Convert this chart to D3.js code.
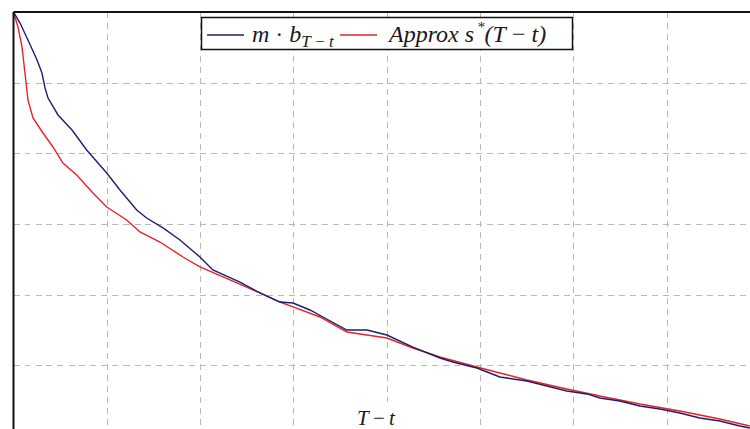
<!DOCTYPE html>
<html>
<head>
<meta charset="utf-8">
<script src="https://cdn.jsdelivr.net/npm/d3@7"></script>
<style>
  html, body { margin: 0; padding: 0; background: #fff; }
  svg { display: block; }
  .lbl { font-family: "Liberation Serif", "DejaVu Serif", serif; font-style: italic; fill: #1a1a1a; }
</style>
</head>
<body>
<svg id="chart" width="750" height="429"></svg>
<script>
// Time to maturity (T - t), in grid units
const blueT = [0, 0.070, 0.155, 0.252, 0.305, 0.338, 0.370, 0.477, 0.627, 0.784, 0.999, 1.141, 1.320, 1.427, 1.602, 1.784, 1.998, 2.137, 2.427, 2.641, 2.855, 2.995, 3.177, 3.316, 3.573, 3.788, 4.002, 4.280, 4.570, 4.709, 4.966, 5.212, 5.502, 5.716, 5.930, 6.145, 6.284, 6.498, 6.713, 6.927, 7.141, 7.355, 7.570, 7.784, 7.891];
// m · b_{T-t}
const blueV = [6, 5.844, 5.604, 5.321, 5.137, 4.925, 4.783, 4.543, 4.330, 4.047, 3.722, 3.481, 3.198, 3.085, 2.944, 2.774, 2.533, 2.349, 2.179, 2.024, 1.896, 1.882, 1.783, 1.684, 1.500, 1.500, 1.429, 1.259, 1.104, 1.047, 0.962, 0.835, 0.779, 0.708, 0.637, 0.595, 0.538, 0.495, 0.425, 0.382, 0.325, 0.255, 0.212, 0.142, 0.113];

const redT = [0, 0.048, 0.091, 0.123, 0.155, 0.209, 0.316, 0.423, 0.530, 0.677, 0.852, 0.999, 1.213, 1.355, 1.570, 1.816, 1.998, 2.320, 2.641, 2.855, 2.995, 3.284, 3.573, 4.002, 4.280, 4.570, 4.966, 5.212, 5.502, 5.930, 6.284, 6.713, 7.141, 7.570, 7.891];
// Approx s*(T - t)
const redV = [6, 5.788, 5.505, 5.137, 4.755, 4.500, 4.288, 4.090, 3.863, 3.693, 3.439, 3.241, 3.057, 2.887, 2.745, 2.533, 2.392, 2.208, 2.024, 1.896, 1.826, 1.684, 1.472, 1.387, 1.245, 1.118, 0.976, 0.892, 0.793, 0.665, 0.566, 0.453, 0.354, 0.241, 0.142];

const xTicks = [1, 2, 3, 4, 5, 6, 7];
const yTicks = [1, 2, 3, 4, 5];

const svg = d3.select("#chart");
const plotL = 13.5, plotT = 12, plotR = 760, plotB = 436;

const x = d3.scaleLinear().domain([0, 8]).range([plotL, plotR]);
const y = d3.scaleLinear().domain([0, 6]).range([plotB, plotT]);

// dashed grid
const grid = svg.append("g").attr("stroke", "#b8b8b8").attr("stroke-width", 1)
  .attr("stroke-dasharray", "6,5").attr("shape-rendering", "crispEdges");
grid.selectAll("line.v").data(xTicks).join("line").attr("class", "v")
  .attr("x1", d => Math.round(x(d)) + 0.5).attr("x2", d => Math.round(x(d)) + 0.5)
  .attr("y1", plotT).attr("y2", plotB);
grid.selectAll("line.h").data(yTicks).join("line").attr("class", "h")
  .attr("y1", d => Math.round(y(d)) + 0.5).attr("y2", d => Math.round(y(d)) + 0.5)
  .attr("x1", plotL).attr("x2", plotR);

// curves
const line = d3.line().x(d => x(d[0])).y(d => y(d[1]));
const blue = blueT.map((t, i) => [t, blueV[i]]);
const red = redT.map((t, i) => [t, redV[i]]);

svg.append("path").datum(red).attr("d", line)
  .attr("fill", "none").attr("stroke", "#e3232b").attr("stroke-width", 1.4);
svg.append("path").datum(blue).attr("d", line)
  .attr("fill", "none").attr("stroke", "#1c1f6b").attr("stroke-width", 1.4);

// frame (top and left edges visible)
svg.append("line").attr("x1", plotL).attr("x2", plotR).attr("y1", plotT).attr("y2", plotT)
  .attr("stroke", "#111").attr("stroke-width", 2);
svg.append("line").attr("x1", plotL).attr("x2", plotL).attr("y1", plotT).attr("y2", plotB)
  .attr("stroke", "#111").attr("stroke-width", 2);

// axis title
svg.append("rect").attr("x", 350).attr("y", 402).attr("width", 52).attr("height", 27).attr("fill", "#fff");
const xt = svg.append("text").attr("class", "lbl").attr("x", 376).attr("y", 425)
  .attr("text-anchor", "middle").attr("font-size", 21);
xt.append("tspan").text("T");
xt.append("tspan").attr("font-style", "normal").text("\u2009−\u2009");
xt.append("tspan").text("t");

// legend
const lg = svg.append("g");
lg.append("rect").attr("x", 201.5).attr("y", 17.5).attr("width", 371).attr("height", 32)
  .attr("fill", "#fff").attr("stroke", "#111").attr("stroke-width", 1.5);
lg.append("line").attr("x1", 207).attr("x2", 244).attr("y1", 35).attr("y2", 35)
  .attr("stroke", "#1c1f6b").attr("stroke-width", 1.4);
lg.append("line").attr("x1", 340).attr("x2", 377).attr("y1", 35).attr("y2", 35)
  .attr("stroke", "#e3232b").attr("stroke-width", 1.4);

const t1 = lg.append("text").attr("class", "lbl").attr("x", 252).attr("y", 42).attr("font-size", 24);
t1.append("tspan").text("m");
t1.append("tspan").attr("font-style", "normal").text(" · ");
t1.append("tspan").text("b");
t1.append("tspan").attr("font-size", 17).attr("dy", 5).text("T\u2009−\u2009t");

const t2 = lg.append("text").attr("class", "lbl").attr("x", 389).attr("y", 42).attr("font-size", 24);
t2.append("tspan").text("Approx s");
t2.append("tspan").attr("font-size", 15).attr("dx", 3).attr("dy", -10).text("*");
t2.append("tspan").attr("dy", 10).text("(T");
t2.append("tspan").attr("font-style", "normal").text(" − ");
t2.append("tspan").text("t)");
</script>
</body>
</html>
